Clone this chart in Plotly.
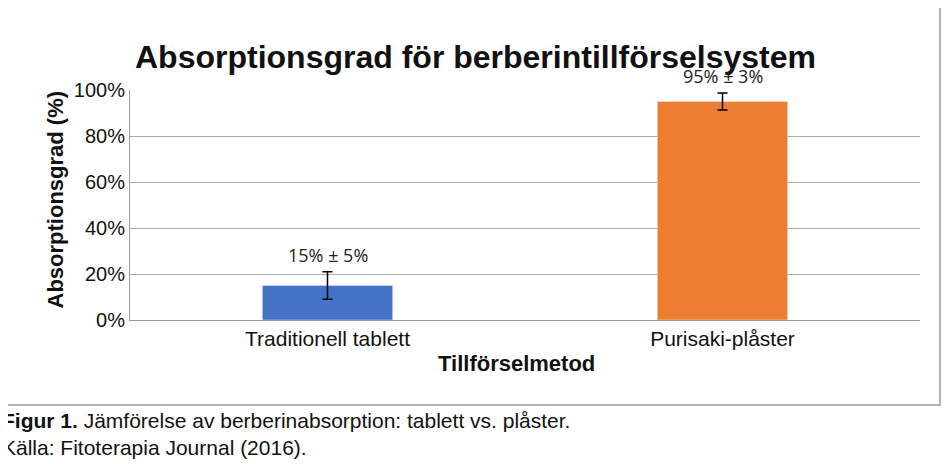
import plotly.graph_objects as go

categories = ["Traditionell tablett", "Purisaki-plåster"]
values = [15, 95]
errors = [6, 3.7]
value_labels = ["15% ± 5%", "95% ± 3%"]
colors = ["#4472C4", "#ED7D31"]

F = "Liberation Sans, Arial, sans-serif"
fig = go.Figure(go.Bar(
    x=categories, y=values, marker_color=colors, width=0.33,
    error_y=dict(type="data", array=errors, color="black", thickness=1.5, width=5),
))
H = 230.0
OFF = 8
def py(p): return (320 - p) / H
def px(p): return (p - 130) / 790.0
anns = [dict(x=c, y=v + e, text=t, showarrow=False, yanchor="bottom", yshift=3,
             font=dict(family="Open Sans, sans-serif", size=18, color="#222"))
        for c, v, e, t in zip(categories, values, errors, value_labels)]
anns += [
    dict(text="<b>Absorptionsgrad för berberintillförselsystem</b>", x=px(475), y=py(37),
         xref="paper", yref="paper", showarrow=False, font=dict(size=32, family=F)),
    dict(text="<b>Absorptionsgrad (%)</b>", x=px(40), y=py(200), textangle=-90,
         xref="paper", yref="paper", showarrow=False, font=dict(size=22, family=F)),
    dict(text="<b>Tillförselmetod</b>", x=px(516), y=py(378),
         xref="paper", yref="paper", showarrow=False, font=dict(size=22, family=F)),
    dict(text="<b>Figur 1.</b> Jämförelse av berberinabsorption: tablett vs. plåster.<br>Källa: Fitoterapia Journal (2016).",
         x=px(0), y=py(407), xanchor="left", yanchor="top", align="left",
         xref="paper", yref="paper", showarrow=False, font=dict(size=21, family=F)),
]
fig.update_layout(
    width=950, height=464, margin=dict(l=130 - OFF, r=30 + OFF, t=90 - OFF, b=144 + OFF),
    plot_bgcolor="white", paper_bgcolor="white", showlegend=False,
    font=dict(family=F, color="#111"),
    xaxis=dict(tickfont=dict(size=21, family=F), showline=True, linecolor="#999", ticks=""),
    yaxis=dict(range=[0, 100], dtick=20, ticksuffix="%", tickfont=dict(size=20, family=F),
               gridcolor="#aaa", showline=True, linecolor="#999", zeroline=False, ticks=""),
    annotations=anns,
    shapes=[dict(type="rect", xref="paper", yref="paper", x0=px(0), x1=px(940), y0=py(405), y1=py(0),
                 line=dict(color="#999", width=1.5))],
)
fig.write_html("out.html")
